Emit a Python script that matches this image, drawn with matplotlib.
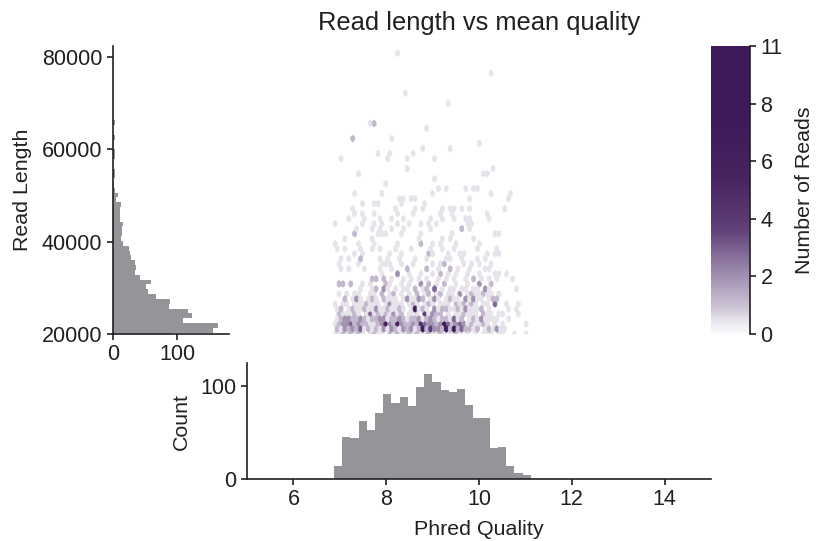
import numpy as np
import matplotlib
matplotlib.use("Agg")
import matplotlib.cm as cm
from matplotlib import pyplot as plt
from matplotlib.colors import LinearSegmentedColormap, Normalize, PowerNorm

plt.rcParams['font.family'] = ['Liberation Sans', 'DejaVu Sans']

W, H = 817, 541
GREY = '#939598'
INK = '#231f20'

# reads per hexagon, one string per row from the bottom, one hex digit per column
dense_rows = [
    "1121212101" "2110212112" "1211211211" "1210101011" "10110010010",
    "2132324121" "2131321323" "12825332a2" "a242212012" "13110000000",
    "1233423221" "1238327322" "3264332394" "2343121121" "01010000010",
    "1233223212" "2331223212" "2312321221" "4120121311" "11001000000",
    "0211121014" "1212131201" "1105132201" "0112111021" "10110001000",
    "1201211211" "3112112101" "8121031221" "1213111201" "00001010000",
    "1011011121" "1101311101" "2101210111" "0212121011" "04001001000",
    "0020131012" "1021110131" "1320131012" "1103131101" "22000000000",
]

# higher rows are sparse: the column of each read, row 8 first
sparse_rows = [
    [1, 3, 5, 6, 9, 10, 12, 12, 14, 15, 15, 17, 19, 21, 21, 23, 24, 24, 26, 27, 27, 29, 30, 32, 32, 32, 34, 35, 35, 36, 37, 38, 38, 39, 40, 42],
    [6, 9, 10, 10, 12, 12, 12, 13, 15, 17, 18, 20, 20, 22, 23, 23, 25, 25, 25, 25, 27, 29, 30, 32, 33, 35, 36, 38, 38, 38, 39, 46],
    [1, 1, 2, 2, 4, 4, 7, 9, 13, 13, 14, 17, 19, 22, 22, 22, 24, 24, 26, 28, 28, 31, 34, 37, 37, 37, 40, 40],
    [9, 9, 10, 10, 12, 12, 14, 17, 19, 21, 23, 26, 28, 30, 33, 35, 35, 37, 39, 41, 45],
    [12, 16, 16, 16, 19, 22, 25, 27, 27, 29, 31, 34, 37, 41, 42, 44],
    [1, 3, 7, 11, 14, 18, 18, 23, 23, 26, 29, 29, 31, 34, 38, 39],
    [1, 6, 12, 13, 14, 17, 20, 25, 27, 28, 28, 33, 35, 37, 40],
    [1, 3, 6, 6, 11, 13, 16, 20, 23, 28, 29, 32, 36, 38],
    [5, 7, 14, 17, 24, 24, 25, 29, 32, 33, 39, 41, 42],
    [0, 2, 6, 9, 11, 15, 19, 24, 27, 30, 36, 41],
    [0, 6, 10, 16, 22, 22, 25, 27, 31, 37],
    [2, 9, 21, 27, 29, 35],
    [5, 5, 11, 12, 13, 17, 22, 30, 41, 42],
    [5, 9, 11, 14, 17, 24, 32, 32, 34],
    [0, 7, 10, 12, 16, 19, 22, 24, 26, 34, 35],
    [3, 7, 11, 14, 17, 24, 27, 30, 33, 34, 39],
    [5, 7, 10, 16, 20, 27, 30, 39],
    [4, 15, 20, 22, 27, 29, 30, 32, 34, 43],
    [7, 10, 11, 17, 23],
    [16, 17, 19, 20, 34, 44],
    [5, 12, 25, 40, 45],
    [26, 28, 33, 35, 36],
    [13],
    [25],
    [6, 38, 39],
    [18, 40],
    [],
    [1, 13, 18, 25],
    [11, 14, 20],
    [22, 29],
    [37],
    [4, 4, 14],
    [],
    [23],
    [9, 10, 10],
    [], [], [],
    [29],
    [],
    [18],
    [], [], [],
    [40],
    [], [], [],
    [16],
]

length_counts = [93, 156, 164, 109, 123, 117, 87, 89, 68, 55, 52, 60, 43, 35, 36, 34,
                 29, 27, 25, 16, 13, 14, 14, 16, 11, 11, 11, 13, 5, 9, 4, 2, 1, 3, 3,
                 1, 1, 4, 3, 1, 1, 3, 1, 1, 3, 1, 1, 1, 0, 1, 1, 0, 1, 0, 0, 1, 0, 1]
quality_counts = [14, 45, 44, 63, 53, 71, 92, 82, 88, 79, 99, 113, 104, 96, 94, 97,
                  80, 66, 66, 33, 34, 14, 7, 4]

count_ticks = [0, 2.2, 4.4, 6.6, 8.8, 11]
count_labels = ['0', '2', '4', '6', '8', '11']
length_ticks = [20000, 40000, 60000, 80000]

X_MIN, X_MAX, Y_MIN, Y_MAX = 6.9, 11.1, 20000, 80800
GRID = 50
Y_TOP = 82380


def axes_px(left, top, right, bottom):
    return [left / W, 1 - bottom / H, (right - left) / W, (bottom - top) / H]


def hex_points():
    sx = (X_MAX - X_MIN) / GRID
    sy = (Y_MAX - Y_MIN) / 28
    xs, ys, cs = [], [], []
    rows = [[(i, int(c, 16)) for i, c in enumerate(r)] for r in dense_rows]
    rows += [[(i, 1) for i in r] for r in sparse_rows]
    for n, row in enumerate(rows):
        for col, count in row:
            if count == 0:
                continue
            xs.append(X_MIN + (col + 0.5 * (n % 2)) * sx)
            ys.append(Y_MIN + n * sy / 2)
            cs.append(count)
    return np.array(xs), np.array(ys), np.array(cs)


def style(ax):
    for side in ['top', 'right']:
        ax.spines[side].set_visible(False)
    for side in ['left', 'bottom']:
        ax.spines[side].set_color(INK)
        ax.spines[side].set_linewidth(1.2)
    ax.tick_params(labelsize=15.5, length=4.5, width=1.2, color=INK, labelcolor=INK, pad=3)


fig = plt.figure(figsize=(W / 100, H / 100), dpi=100)

cmap = LinearSegmentedColormap.from_list('reads', [
    (0, '#fbfafc'), (0.5 / 11, '#e8e4ec'), (1 / 11, '#cdc4d5'), (2 / 11, '#a998b7'),
    (4 / 11, '#5f4078'), (6 / 11, '#47235f'), (8 / 11, '#3f1a5a'), (1, '#3f1a5a')])

# hexbin
ax_hex = fig.add_axes(axes_px(247, 46, 711, 334))
x, y, c = hex_points()
ax_hex.hexbin(x, y, C=c, reduce_C_function=np.sum, gridsize=GRID,
              extent=(X_MIN, X_MAX, Y_MIN, Y_MAX), cmap=cmap,
              norm=PowerNorm(gamma=1.25, vmin=0, vmax=11), linewidths=0.5, edgecolors='face')
ax_hex.set_xlim(5, 15)
ax_hex.set_ylim(20000, Y_TOP)
ax_hex.axis('off')
fig.text(479 / W, 1 - 23 / H, 'Read length vs mean quality', fontsize=18.4, color=INK,
         ha='center', va='center')

# read length histogram
ax_left = fig.add_axes(axes_px(112.7, 46, 229, 334))
edges = 19234 + 1046 * np.arange(len(length_counts) + 1)
ax_left.barh(edges[:-1], length_counts, height=1046, align='edge', color=GREY, linewidth=0)
ax_left.set_ylim(20000, Y_TOP)
ax_left.set_xlim(0, 181)
ax_left.set_xticks([0, 100])
ax_left.set_yticks(length_ticks)
ax_left.set_ylabel('Read Length', fontsize=15.4, color=INK, labelpad=7)
style(ax_left)

# quality histogram
ax_bottom = fig.add_axes(axes_px(247, 363, 711, 479))
q_edges = 6.875 + 0.1767 * np.arange(len(quality_counts) + 1)
ax_bottom.bar(q_edges[:-1], quality_counts, width=0.1767, align='edge', color=GREY, linewidth=0)
ax_bottom.set_xlim(5, 15)
ax_bottom.set_ylim(0, 125)
ax_bottom.set_xticks([6, 8, 10, 12, 14])
ax_bottom.set_yticks([0, 100])
ax_bottom.set_xlabel('Phred Quality', fontsize=15.4, color=INK, labelpad=7)
ax_bottom.set_ylabel('Count', fontsize=15.4, color=INK, labelpad=7)
style(ax_bottom)

# colour bar
cax = fig.add_axes(axes_px(711, 46, 750, 334))
sm = cm.ScalarMappable(cmap=cmap, norm=Normalize(vmin=0, vmax=11))
cbar = fig.colorbar(sm, cax=cax, ticks=count_ticks)
cbar.set_ticklabels(count_labels)
cbar.outline.set_visible(False)
cax.spines['right'].set_visible(True)
cax.spines['right'].set_color(INK)
cax.spines['right'].set_linewidth(1.2)
cax.tick_params(labelsize=15.5, length=4.5, width=1.2, color=INK, labelcolor=INK, pad=3)
cbar.set_label('Number of Reads', fontsize=15.4, color=INK, labelpad=9)

fig.savefig('out.png', dpi=100)
